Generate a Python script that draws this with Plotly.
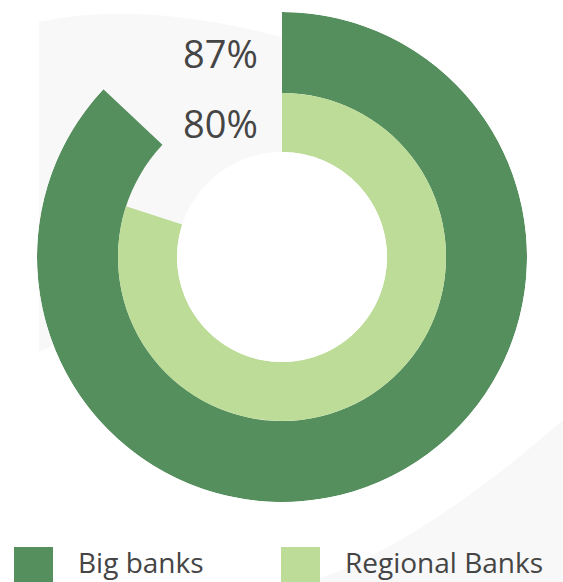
import plotly.graph_objects as go

# ---- data ----
series_names = ["Big banks", "Regional Banks"]
series_values = [87, 80]
series_colors = ["#568f5e", "#bcdc97"]

W, H = 563, 582
CX, CY = 282, 257          # ring centre (px)
R_OUT = 245
R_MID = 164
R_IN = 105
FONT = "Open Sans"
TXT = "#454545"
GRAY = "#f8f8f8"


def px(x):
    return x / W


def py(y):
    return 1 - y / H


fig = go.Figure()

ring_bounds = [(R_MID, R_OUT), (R_IN, R_MID)]
for name, val, col, (b0, b1) in zip(series_names, series_values, series_colors, ring_bounds):
    span = val / 100 * 360
    fig.add_trace(go.Barpolar(
        r=[b1 - b0], base=[b0], theta=[span / 2], width=[span],
        name=name, marker=dict(color=col, line=dict(width=0)),
        showlegend=False, hoverinfo="name",
    ))

shapes = []
# light grey decorative background areas
shapes.append(dict(type="path", xref="paper", yref="paper", layer="below",
                   path=f"M {px(39)},{py(22)} Q {px(140)},{py(0)} {px(282)},{py(37)} "
                        f"L {px(300)},{py(230)} L {px(39)},{py(352)} Z",
                   fillcolor=GRAY, line=dict(width=0)))
shapes.append(dict(type="path", xref="paper", yref="paper", layer="below",
                   path=f"M {px(563)},{py(420)} Q {px(420)},{py(545)} {px(310)},{py(582)} "
                        f"L {px(563)},{py(582)} Z",
                   fillcolor=GRAY, line=dict(width=0)))
# white centre hole
shapes.append(dict(type="circle", xref="paper", yref="paper", layer="below",
                   x0=px(CX - R_IN), x1=px(CX + R_IN), y0=py(CY + R_IN), y1=py(CY - R_IN),
                   fillcolor="white", line=dict(width=0)))

annotations = []
# value labels, left aligned at the middle of each ring
for val, (b0, b1) in zip(series_values, ring_bounds):
    ymid = CY - (b0 + b1) / 2
    annotations.append(dict(text=f"{val}%", x=px(181), y=py(ymid), xref="paper", yref="paper",
                            xanchor="left", yanchor="middle", showarrow=False,
                            font=dict(family=FONT, size=38, color=TXT)))

# manual legend
legend_x = [14, 281]
for name, col, lx in zip(series_names, series_colors, legend_x):
    shapes.append(dict(type="rect", xref="paper", yref="paper",
                       x0=px(lx), x1=px(lx + 39), y0=py(587), y1=py(547),
                       fillcolor=col, line=dict(width=0)))
    annotations.append(dict(text=name, x=px(lx + 62), y=py(562), xref="paper", yref="paper",
                            xanchor="left", yanchor="middle", showarrow=False,
                            font=dict(family=FONT, size=28, color=TXT)))

fig.update_layout(
    width=W, height=H,
    margin=dict(l=0, r=0, t=0, b=0),
    paper_bgcolor="white", plot_bgcolor="white",
    showlegend=False,
    shapes=shapes, annotations=annotations,
    polar=dict(
        domain=dict(x=[px(CX - R_OUT), px(CX + R_OUT)], y=[py(CY + R_OUT), py(CY - R_OUT)]),
        bgcolor="rgba(0,0,0,0)",
        hole=R_IN / R_OUT,
        radialaxis=dict(range=[R_IN, R_OUT], visible=False, showgrid=False),
        angularaxis=dict(rotation=90, direction="clockwise", visible=False, showgrid=False),
        barmode="overlay",
    ),
)

fig.write_html("out.html")
